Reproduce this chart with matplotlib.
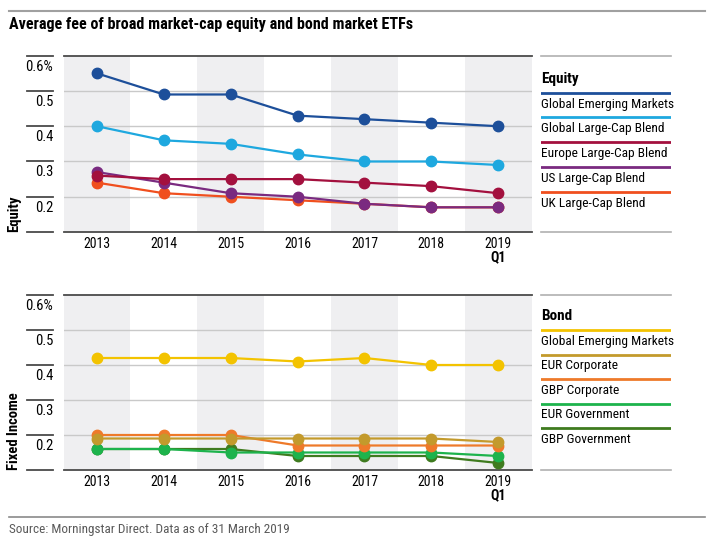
import matplotlib
matplotlib.use("Agg")
import matplotlib.pyplot as plt
from matplotlib.lines import Line2D
from matplotlib.transforms import blended_transform_factory

plt.rcParams["font.family"] = ["Roboto Condensed", "Liberation Sans Narrow",
                               "Roboto", "DejaVu Sans"]

years = ["2013", "2014", "2015", "2016", "2017", "2018", "2019"]
last_sub = "Q1"
y_ticks = [0.1, 0.2, 0.3, 0.4, 0.5, 0.6]

equity_names = ["Global Emerging Markets", "Global Large-Cap Blend",
                "Europe Large-Cap Blend", "US Large-Cap Blend", "UK Large-Cap Blend"]
equity_colors = ["#1d4f9a", "#1ea8df", "#a3103e", "#7a2a80", "#f04f1e"]
eq_global_em = [0.55, 0.49, 0.49, 0.43, 0.42, 0.41, 0.40]
eq_global_lc = [0.40, 0.36, 0.35, 0.32, 0.30, 0.30, 0.29]
eq_europe_lc = [0.26, 0.25, 0.25, 0.25, 0.24, 0.23, 0.21]
eq_us_lc = [0.27, 0.24, 0.21, 0.20, 0.18, 0.17, 0.17]
eq_uk_lc = [0.24, 0.21, 0.20, 0.19, 0.18, 0.17, 0.17]
equity_values = [eq_global_em, eq_global_lc, eq_europe_lc, eq_us_lc, eq_uk_lc]
equity_order = [4, 3, 2, 1, 0]

bond_names = ["Global Emerging Markets", "EUR Corporate", "GBP Corporate",
              "EUR Government", "GBP Government"]
bond_colors = ["#f3c300", "#c39a2c", "#ee7a2a", "#1db34c", "#3f7b1f"]
bd_global_em = [0.42, 0.42, 0.42, 0.41, 0.42, 0.40, 0.40]
bd_eur_corp = [0.19, 0.19, 0.19, 0.19, 0.19, 0.19, 0.18]
bd_gbp_corp = [0.20, 0.20, 0.20, 0.17, 0.17, 0.17, 0.17]
bd_eur_gov = [0.16, 0.16, 0.15, 0.15, 0.15, 0.15, 0.14]
bd_gbp_gov = [0.16, 0.16, 0.16, 0.14, 0.14, 0.14, 0.12]
bond_values = [bd_global_em, bd_eur_corp, bd_gbp_corp, bd_eur_gov, bd_gbp_gov]
bond_order = [4, 3, 2, 1, 0]

W, H = 715, 550
fig = plt.figure(figsize=(W / 100, H / 100), dpi=100)


def px_box(x0, y0, x1, y1):
    return [x0 / W, 1 - y1 / H, (x1 - x0) / W, (y1 - y0) / H]


def draw_panel(ax, values, colors, order, ylabel):
    n = len(years)
    xs = list(range(n))
    for i in range(0, n, 2):
        ax.axvspan(i - 0.5, i + 0.5, color="#efeff1", zorder=0, lw=0)
    for t in y_ticks[1:-1]:
        ax.axhline(t, color="#c9c9c9", lw=1.0, zorder=1)
    for k in order:
        ax.plot(xs, values[k], color=colors[k], lw=1.6, marker="o",
                markersize=7.5, zorder=3, clip_on=False)
    ax.set_xlim(-0.5, n - 0.5)
    ax.set_ylim(y_ticks[0], y_ticks[-1])
    for s in ["left", "right"]:
        ax.spines[s].set_visible(False)
    for s in ["top", "bottom"]:
        ax.spines[s].set_color("#4a4a4a")
        ax.spines[s].set_linewidth(1.3)
    ax.set_yticks([])
    ax.set_xticks(xs)
    ax.set_xticklabels(years, fontsize=10)
    ax.tick_params(axis="x", length=0, pad=3.5)
    tr = blended_transform_factory(ax.transAxes, ax.transData)
    for t in y_ticks:
        ax.plot([-0.078, -0.022], [t, t], transform=tr, color="#4a4a4a",
                lw=1.3, clip_on=False)
        if t == y_ticks[0]:
            continue
        lab = f"{t:.1f}%" if t == y_ticks[-1] else f"{t:.1f}"
        ax.text(-0.022, t - 0.011, lab, transform=tr, ha="right", va="top",
                fontsize=10.5)
    trx = blended_transform_factory(ax.transData, ax.transAxes)
    ax.annotate(last_sub, xy=(n - 1, 0), xycoords=trx, xytext=(0, -13),
                textcoords="offset points", ha="center", va="top",
                fontsize=10, fontweight="bold")
    ax.text(-0.105, 0, ylabel, transform=ax.transAxes, rotation=90,
            ha="center", va="bottom", fontsize=10.5, fontweight="bold")


def draw_legend(lax, title, names, colors, title_y, first_y):
    lax.set_xlim(0, 1)
    lax.set_ylim(0, 1)
    lax.axis("off")
    lax.plot([0, 1], [1, 1], color="#b0b0b0", lw=1.2, clip_on=False)
    lax.plot([0, 1], [0, 0], color="#b0b0b0", lw=1.2, clip_on=False)
    lax.text(0, title_y, title, fontsize=11, fontweight="bold", va="center")
    step = 0.1404
    for i, (nm, c) in enumerate(zip(names, colors)):
        y = first_y - i * step
        lax.plot([0, 1], [y, y], color=c, lw=2.0)
        lax.text(0, y - 0.064, nm, fontsize=9.6, va="center")


ax1 = fig.add_axes(px_box(63.5, 55.7, 531.7, 232))
ax2 = fig.add_axes(px_box(63.5, 295, 531.7, 470))
draw_panel(ax1, equity_values, equity_colors, equity_order, "Equity")
draw_panel(ax2, bond_values, bond_colors, bond_order, "Fixed Income")

lax1 = fig.add_axes(px_box(541, 55.7, 671, 232))
lax2 = fig.add_axes(px_box(541, 295, 671, 470))
draw_legend(lax1, "Equity", equity_names, equity_colors, 0.868, 0.790)
draw_legend(lax2, "Bond", bond_names, bond_colors, 0.88, 0.80)

fig.add_artist(Line2D([9 / W, 705 / W], [1 - 11 / H, 1 - 11 / H],
                      color="#a0a0a0", lw=1.5))
fig.text(9 / W, 1 - 24 / H, "Average fee of broad market-cap equity and bond market ETFs",
         fontsize=11.6, fontweight="bold", va="center")
fig.add_artist(Line2D([9 / W, 705 / W], [1 - 517 / H, 1 - 517 / H],
                      color="#8a8a8a", lw=1.2))
fig.text(9 / W, 1 - 530 / H, "Source: Morningstar Direct. Data as of 31 March 2019",
         fontsize=9.5, color="#5a5a5a", va="center")

fig.savefig("out.png", dpi=100)
